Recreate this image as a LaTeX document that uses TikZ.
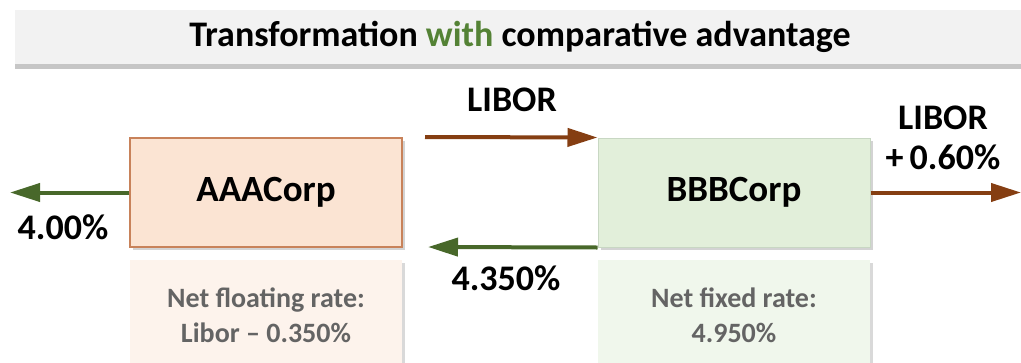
\documentclass[tikz,border=0pt]{standalone}
\usepackage{fontspec}
\setmainfont{Carlito}
\usepackage{xcolor}
\usepackage{tikz}
\usetikzlibrary{arrows.meta,positioning,shadows}

\definecolor{rustbrown}{RGB}{133,62,18}
\definecolor{darkleaf}{RGB}{72,104,42}
\definecolor{titlegreen}{RGB}{84,130,53}
\definecolor{peach}{RGB}{251,228,211}
\definecolor{peachline}{RGB}{200,130,90}
\definecolor{peachpale}{RGB}{253,243,236}
\definecolor{mint}{RGB}{226,239,218}
\definecolor{mintline}{RGB}{200,215,195}
\definecolor{mintpale}{RGB}{240,247,236}
\definecolor{notegray}{RGB}{100,100,100}

\begin{document}
\begin{tikzpicture}[x=1pt,y=-1pt,
	>={Triangle[length=30pt,width=18pt]},
	corpbox/.style={minimum width=272pt, minimum height=109pt, inner sep=0pt,
		font=\fontsize{37}{40}\selectfont\bfseries,
		drop shadow={shadow xshift=3pt,shadow yshift=-3pt,opacity=0.35}},
	notebox/.style={minimum width=272pt, minimum height=110pt, inner sep=0pt,
		anchor=north, font=\fontsize{28}{33}\selectfont\bfseries, text=notegray,
		align=center, text depth=0pt,
		drop shadow={shadow xshift=3pt,shadow yshift=-3pt,opacity=0.3}},
	rate/.style={font=\fontsize{36}{40}\selectfont\bfseries, align=center},
	payflow/.style={line width=4pt}]
	\useasboundingbox (0,0) rectangle (1021,362);

	% title bar
	\node[fill=black!5, minimum width=1010pt, minimum height=54pt, inner sep=0pt,
		drop shadow={shadow xshift=0pt,shadow yshift=-5pt,opacity=0.45}] (title) at (520,37)
		{\fontsize{36}{40}\selectfont\bfseries Transformation \textcolor{titlegreen}{with} comparative advantage};

	% the two companies
	\node[corpbox, fill=peach, draw=peachline, line width=1.5pt] (aaa) at (266,192.5) {AAACorp};
	\node[corpbox, fill=mint, draw=mintline, line width=1pt] (bbb) at (734,192.5) {BBBCorp};

	\node[notebox, fill=peachpale] (aaanet) at (266,260) {\raisebox{-14pt}{}Net floating rate:\\Libor -- 0.350\%};
	\node[notebox, fill=mintpale] (bbbnet) at (734,260) {\raisebox{-14pt}{}Net fixed rate:\\4.950\%};

	% free ends of the flows
	\coordinate (aaaout) at (10,192.5);
	\coordinate (bbbout) at (1021,192.5);
	\coordinate (libstart) at (425,137);
	\coordinate (fixtip) at (428,247);

	\draw[payflow, darkleaf, ->] (aaa.west) -- (aaaout);
	\draw[payflow, rustbrown, ->] (libstart) -- (bbb.north west);
	\draw[payflow, darkleaf, ->] (bbb.south west) -- (fixtip);
	\draw[payflow, rustbrown, ->] (bbb.east) -- (bbbout);

	\node[rate] (aaarate) at (63,227) {4.00\%};
	\node[rate] (libor) at (512,100) {LIBOR};
	\node[rate] (fixrate) at (506,278) {4.350\%};
	\node[rate] (spread) at (943,138) {LIBOR\\+\,0.60\%};
\end{tikzpicture}
\end{document}
